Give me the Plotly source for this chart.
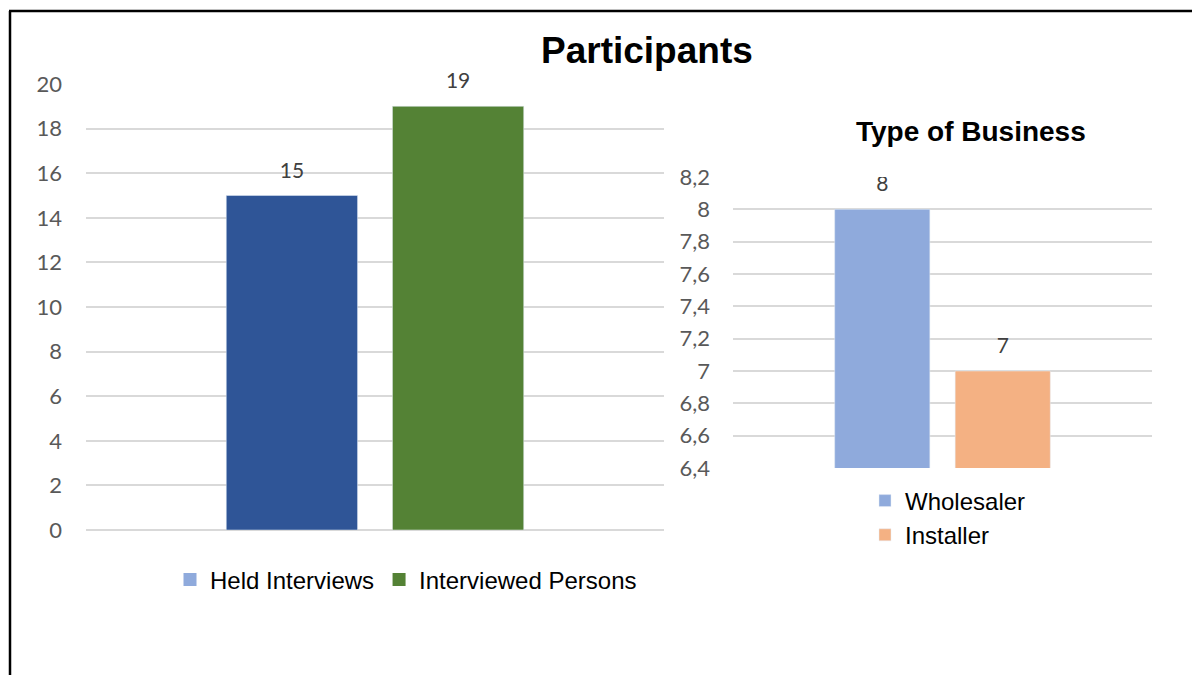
import plotly.graph_objects as go

# ---- data ----
left_title = "Participants"
left_category = [""]
held_interviews = [15]
interviewed_persons = [19]
left_series_names = ["Held Interviews", "Interviewed Persons"]

right_title = "Type of Business"
right_category = [""]
wholesaler = [8]
installer = [7]
right_series_names = ["Wholesaler", "Installer"]

left_ticks = [0, 2, 4, 6, 8, 10, 12, 14, 16, 18, 20]
right_ticks = [6.4, 6.6, 6.8, 7.0, 7.2, 7.4, 7.6, 7.8, 8.0, 8.2]

# ---- style ----
OFF = 8  # page body margin of the html page
W, H = 1200 - OFF, 675 - OFF
DARK_BLUE = "#2F5597"
LIGHT_BLUE = "#8FAADC"
GREEN = "#548235"
ORANGE = "#F4B183"
GRID = "#D9D9D9"
TICK_FONT = dict(family="Lato, Liberation Sans, sans-serif", size=22, color="#595959")
# small base size keeps the trailing spacer line short; the number itself is 21px
LABEL_FONT = dict(family="Lato, Liberation Sans, sans-serif", size=10, color="#404040")
LABEL_TEMPLATE = ("<span style='font-size:21px'>%{y}</span><br>"
                  "<span style='color:rgba(0,0,0,0)'>.</span>")
LEGEND_FONT = dict(family="Liberation Sans, Arial, sans-serif", size=24, color="#000000")
TITLE_FAMILY = "Liberation Sans, Arial, sans-serif"


def px_x(p):
    return (p - OFF) / W


def px_y(p):
    return 1 - (p - OFF) / H


fig = go.Figure()

# left chart bars
fig.add_trace(go.Bar(x=left_category, y=held_interviews, name=left_series_names[0],
                     marker_color=DARK_BLUE, texttemplate=LABEL_TEMPLATE,
                     textposition="outside", textfont=LABEL_FONT, cliponaxis=False,
                     showlegend=False, xaxis="x", yaxis="y"))
fig.add_trace(go.Bar(x=left_category, y=interviewed_persons, name=left_series_names[1],
                     marker_color=GREEN, texttemplate=LABEL_TEMPLATE,
                     textposition="outside", textfont=LABEL_FONT, cliponaxis=False,
                     showlegend=False, xaxis="x", yaxis="y"))
# left legend entries (legend swatches as in the original)
for nm, col in zip(left_series_names, [LIGHT_BLUE, GREEN]):
    fig.add_trace(go.Scatter(x=[None], y=[None], mode="markers", name=nm,
                             marker=dict(symbol="square", size=13, color=col),
                             xaxis="x", yaxis="y", legend="legend"))

# right chart bars
fig.add_trace(go.Bar(x=right_category, y=wholesaler, name=right_series_names[0],
                     marker_color=LIGHT_BLUE, texttemplate=LABEL_TEMPLATE,
                     textposition="outside", textfont=LABEL_FONT, cliponaxis=True,
                     xaxis="x2", yaxis="y2", legend="legend2"))
fig.add_trace(go.Bar(x=right_category, y=installer, name=right_series_names[1],
                     marker_color=ORANGE, texttemplate=LABEL_TEMPLATE,
                     textposition="outside", textfont=LABEL_FONT, cliponaxis=True,
                     xaxis="x2", yaxis="y2", legend="legend2"))

fig.update_layout(
    width=W, height=H,
    margin=dict(l=0, r=0, t=0, b=0),
    paper_bgcolor="white", plot_bgcolor="white",
    separators=",.",
    barmode="group", bargap=0.425, bargroupgap=0.21,
    xaxis=dict(domain=[px_x(86), px_x(664)], showticklabels=False, showgrid=False,
               zeroline=False, showline=False, automargin=False, fixedrange=True),
    yaxis=dict(domain=[px_y(530), px_y(84)], range=[0, 20], tickvals=left_ticks,
               showgrid=True, gridcolor=GRID, gridwidth=1.5, zeroline=True,
               zerolinecolor=GRID, zerolinewidth=1.5, showline=False,
               tickfont=TICK_FONT, ticks="", ticklabelstandoff=23, automargin=False),
    xaxis2=dict(domain=[px_x(733), px_x(1152)], anchor="y2", showticklabels=False,
                showgrid=False, zeroline=False, showline=False, automargin=False),
    yaxis2=dict(domain=[px_y(468), px_y(177)], anchor="x2", range=[6.4, 8.2],
                tickvals=right_ticks, showgrid=True, gridcolor=GRID, gridwidth=1.5,
                zeroline=False, showline=False, tickfont=TICK_FONT, ticks="",
                ticklabelstandoff=22, automargin=False),
    legend=dict(orientation="h", x=px_x(406), xanchor="center", y=px_y(580),
                yanchor="middle", font=LEGEND_FONT, bgcolor="rgba(0,0,0,0)",
                itemclick=False, itemdoubleclick=False, tracegroupgap=0),
    legend2=dict(orientation="v", x=px_x(865), xanchor="left", y=px_y(518),
                 yanchor="middle", font=LEGEND_FONT, bgcolor="rgba(0,0,0,0)",
                 tracegroupgap=0, traceorder="normal"),
    annotations=[
        dict(text="<b>" + left_title + "</b>", x=px_x(647), y=px_y(51), xref="paper",
             yref="paper", showarrow=False, xanchor="center", yanchor="middle",
             font=dict(family=TITLE_FAMILY, size=37, color="#000000")),
        dict(text="<b>" + right_title + "</b>", x=px_x(971), y=px_y(132), xref="paper",
             yref="paper", showarrow=False, xanchor="center", yanchor="middle",
             font=dict(family=TITLE_FAMILY, size=28, color="#000000")),
    ],
    shapes=[
        dict(type="line", xref="paper", yref="paper", x0=px_x(10), x1=px_x(10),
             y0=px_y(680), y1=px_y(11), line=dict(color="#000000", width=2.5)),
        dict(type="line", xref="paper", yref="paper", x0=px_x(9), x1=px_x(1205),
             y0=px_y(11), y1=px_y(11), line=dict(color="#000000", width=2.5)),
    ],
)

fig.write_html("out.html")
